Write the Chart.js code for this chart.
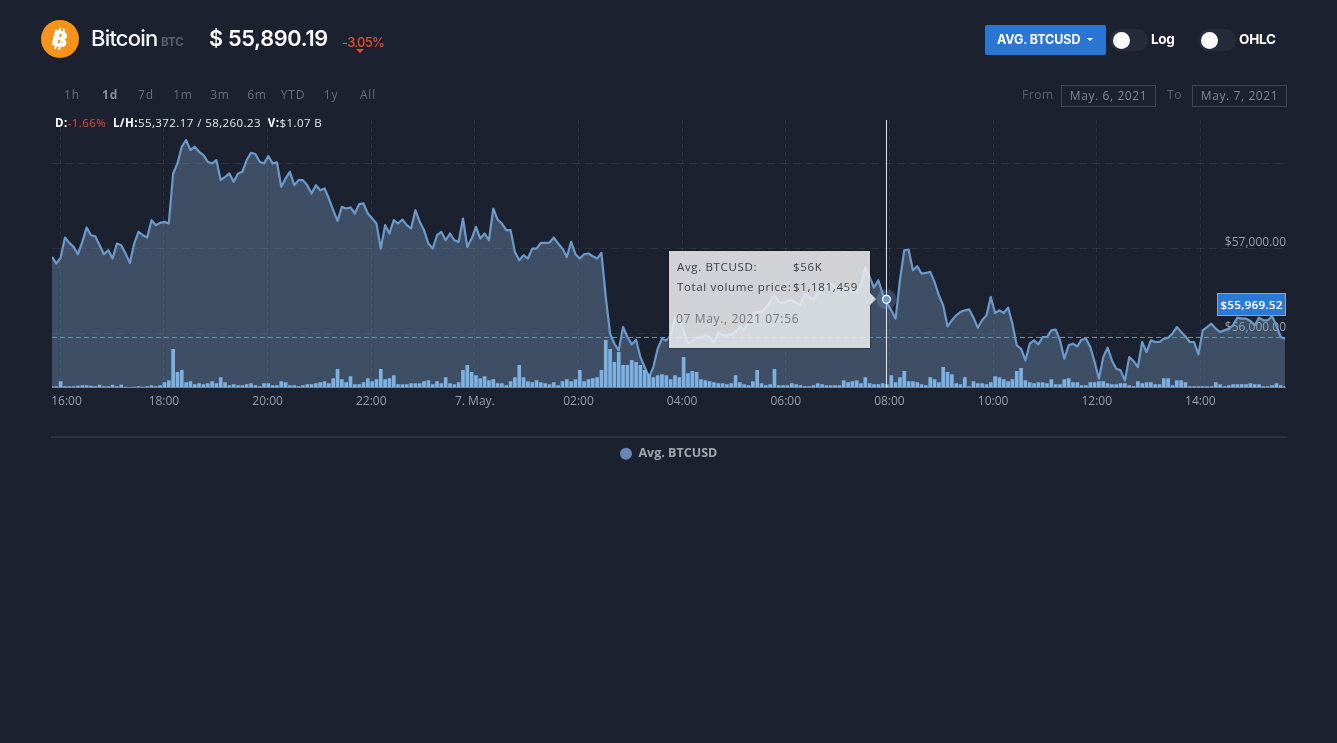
<!DOCTYPE html>
<html><head><meta charset="utf-8">
<script src="https://cdn.jsdelivr.net/npm/chart.js@4"></script>
<style>
html,body{margin:0;padding:0;background:#1c2130;width:1337px;height:743px;overflow:hidden;font-family:"Open Sans",sans-serif}
.a{position:absolute;white-space:nowrap}
canvas{position:absolute;left:0;top:0}
.p{top:86px;font-size:12px;color:#6b6f78;letter-spacing:.8px;transform:translateX(-50%)}
.box{top:85px;height:20px;width:93px;border:1px solid #41464f;color:#85888e;font-size:12px;letter-spacing:.6px;text-align:center;line-height:19px}
.tr{top:29px;height:22px;width:38px;border-radius:11px;background:#262b3a}
.kn{top:31.5px;width:17px;height:17px;border-radius:50%;background:#fff}
.t{font-size:11.5px;letter-spacing:.65px;color:#3a3d42}
</style></head><body>
<canvas id="c" width="1337" height="470"></canvas>

<svg class="a" style="left:41px;top:20px" width="38" height="38" viewBox="0 0 38 38">
<circle cx="19" cy="19" r="19" fill="#f7931a"/>
<g transform="rotate(14 19 19)" fill="#fff"><rect x="15.6" y="8" width="2" height="22"/><rect x="19.6" y="8" width="2" height="22"/>
<text x="19" y="26.5" text-anchor="middle" font-family="Liberation Sans" font-weight="700" font-size="22" fill="#fff" stroke="#fff" stroke-width=".5">B</text></g></svg>
<div class="a" style="left:91px;top:25px;font:500 22px Inter;letter-spacing:-.8px;color:#f2f4f7">Bitcoin</div>
<div class="a" style="left:161px;top:35px;font:700 11.5px Inter;color:#59606e">BTC</div>
<div class="a" style="left:209px;top:25px;font:600 21.7px Inter;letter-spacing:-.3px;color:#fff">$ 55,890.19</div>
<div class="a" style="left:342px;top:34px;font:500 13px Inter;letter-spacing:-.75px;color:#e5502d">-3.05%</div>
<div class="a" style="left:356px;top:49px;width:0;height:0;border-left:4px solid transparent;border-right:4px solid transparent;border-top:4px solid #e5502d"></div>

<div class="a" style="left:985px;top:25px;width:121px;height:30px;background:#2b76d2;border-radius:2px"></div>
<div class="a" style="left:997px;top:32px;font:700 12.5px Inter;letter-spacing:-.1px;color:#fff">AVG. BTCUSD</div>
<div class="a" style="left:1087px;top:38px;width:0;height:0;border-left:3.5px solid transparent;border-right:3.5px solid transparent;border-top:3.5px solid #fff"></div>
<div class="a tr" style="left:1110px"></div><div class="a kn" style="left:1113px"></div>
<div class="a" style="left:1151px;top:31px;font:700 13.5px Inter;letter-spacing:-.3px;color:#fff">Log</div>
<div class="a tr" style="left:1198px"></div><div class="a kn" style="left:1201px"></div>
<div class="a" style="left:1239px;top:31px;font:700 13.5px Inter;letter-spacing:-.25px;color:#fff">OHLC</div>

<div class="a p" style="left:72px">1h</div>
<div class="a p" style="left:110px;font-weight:700;color:#8b8e95">1d</div>
<div class="a p" style="left:146px">7d</div>
<div class="a p" style="left:183px">1m</div>
<div class="a p" style="left:220px">3m</div>
<div class="a p" style="left:257px">6m</div>
<div class="a p" style="left:293px">YTD</div>
<div class="a p" style="left:331px">1y</div>
<div class="a p" style="left:368px">All</div>
<div class="a" style="left:1022px;top:86px;font-size:12px;letter-spacing:.6px;color:#5f636b">From</div>
<div class="a box" style="left:1061px">May. 6, 2021</div>
<div class="a" style="left:1167px;top:86px;font-size:12px;letter-spacing:.6px;color:#5f636b">To</div>
<div class="a box" style="left:1192px">May. 7, 2021</div>

<div class="a" style="left:55px;top:115px;font-size:11.5px;letter-spacing:.42px;color:#e8e8e8;line-height:15px"><b style="color:#fff">D:</b><span style="color:#e0503f">-1.66%</span>&nbsp; <b style="color:#fff">L/H:</b>55,372.17 / 58,260.23&nbsp; <b style="color:#fff">V:</b>$1.07 B</div>

<div class="a" style="left:1217px;top:293px;width:67px;height:21px;background:#2b78d6;border:1px solid #9aa3ad;color:#fff;font-size:11.5px;font-weight:600;letter-spacing:.35px;text-align:center;line-height:21px">$55,969.52</div>

<div class="a" style="left:669px;top:251px;width:201px;height:97px;background:rgba(238,240,242,.86);box-shadow:0 0 2px rgba(0,0,0,.6)"></div>
<div class="a" style="left:870px;top:293px;width:0;height:0;border-top:6px solid transparent;border-bottom:6px solid transparent;border-left:6px solid rgba(238,240,242,.86)"></div>
<div class="a t" style="left:677px;top:259px">Avg. BTCUSD:</div>
<div class="a t" style="left:793px;top:259px">$56K</div>
<div class="a t" style="left:677px;top:279px">Total volume price:</div>
<div class="a t" style="left:793px;top:279px">$1,181,459</div>
<div class="a t" style="left:676px;top:310px;font-size:12px;color:#74777c">07 May., 2021 07:56</div>

<div class="a" style="left:51px;top:436px;width:1235px;height:2px;background:#2c3240"></div>

<script>
// minutes after 16:00 on 6 May of the first sample and the sampling step
const firstMinute = -9.6;
const stepMinutes = 5.009;
const tickMinutes = [0,120,240,360,480,600,720,840,960,1080,1200,1320];
const tickLabels = ["16:00","18:00","20:00","22:00","7. May.","02:00","04:00","06:00","08:00","10:00","12:00","14:00"];
const priceTicks = [56000,57000,58000];
const priceTickLabels = ["$56,000.00","$57,000.00",""];
const lastPriceLine = 55953;
const hoverMinute = 956;
const hoverPrice = 56400;

const prices = [
56898,56820,56891,57126,57063,57016,56930,57075,57243,57153,57141,57036,56930,56977,56879,57055,57036,56938,56828,57055,
57192,57153,57126,57330,57271,57298,57310,57290,57878,57996,58192,58270,58153,58192,58133,58094,58016,57996,58035,57800,
57839,57878,57780,57878,57898,58035,58121,58106,58016,57996,58082,57996,58008,57722,57820,57898,57741,57800,57800,57741,
57643,57741,57682,57702,57584,57447,57322,57486,57467,57479,57408,57518,
57526,57408,57349,57290,56996,57271,57173,57330,57290,57337,57271,57232,57447,57310,57212,57055,56996,57153,57192,57094,
57173,57094,57075,57349,57016,57114,57251,57114,57173,57094,57467,57337,57290,57212,57212,56957,56859,56918,56879,56996,
56996,57063,57063,57067,57126,57055,56996,56898,57075,56930,56879,56930,56938,56906,56879,56945,56428,55997,55879,55801,
56075,55958,55871,55926,55722,55605,55487,55605,55820,55938,55918,
55977,56185,56154,56036,55879,55911,55950,55950,55977,55958,55887,56016,55977,55977,55989,56016,56083,56036,56134,56232,
56252,56252,56303,56369,56448,56369,56357,56381,56389,56357,56330,56459,56428,56397,56475,56526,56565,56585,56546,56514,
56514,56546,56487,56487,56565,56773,56663,56538,56624,56467,56357,56271,56173,56624,56977,56985,56742,56789,56702,56710,
56722,56604,56448,56330,56083,56154,56212,56252,56271,
56283,56185,56067,56154,56212,56428,56240,56271,56240,56303,56114,55860,55820,55683,55879,55918,55871,55958,55958,56036,
56044,55918,55703,55860,55879,55848,55926,55938,55840,55664,55468,55722,55832,55683,55585,55566,55448,55722,55675,55605,
55899,55781,55918,55899,55899,55938,55950,55997,56075,56016,55965,55899,55899,55754,56036,56075,56114,56056,56016,56036,
56056,56095,56185,56173,56173,56146,56095,56185,56154,56154,56201,56095,55958,55938];

// total volume price, in millions of dollars
const volumes = [
.3,.3,1.8,.3,.3,.3,.45,.6,.6,.45,.3,.75,.3,.3,.75,.3,.75,.15,0,.15,.3,.15,.3,.6,.3,.6,1.5,2.1,11.4,4.5,
5.1,1.5,1.8,.9,1.2,.9,1.2,1.8,1.2,3,1.5,.6,.9,.6,.6,.9,1.2,.6,.3,1.2,1.2,.6,.6,1.8,1.5,.6,.6,.3,.6,.9,
.9,1.2,1.5,1.8,1.2,2.7,5.4,2.4,1.5,3.3,.9,.9,
1.5,2.7,1.8,2.4,5.4,2.4,2.7,3.6,.9,.9,.9,1.2,1.2,1.2,1.8,2.1,.9,1.8,1.2,3,1.2,.9,1.5,5.1,6.6,4.5,3.6,2.7,3.3,2.1,
2.4,1.2,1.2,.6,1.8,3,6.6,3,1.8,1.5,2.1,1.5,1.2,.9,1.5,.6,1.8,2.4,1.8,2.4,5.1,1.8,2.4,2.7,3,5.1,14.1,11.4,7.5,10.5,
6.6,6.6,8.1,7.5,6.6,5.1,3.9,3,3.6,3.9,3.6,
2.4,3.6,3,9,4.2,4.8,4.5,2.4,2.1,1.8,1.5,1.2,1.2,.9,1.2,3.6,1.5,.9,.6,1.8,5.1,1.2,.6,.9,5.4,.6,.6,.6,1.2,.9,
.6,.3,.3,.6,1.2,.9,.6,.6,.6,.6,2.1,1.5,1.8,2.1,1.2,3,1.2,.9,.9,1.181459,.9,3.6,1.5,3,4.8,1.8,1.8,1.5,.9,.6,
3,2.4,1.5,6,4.5,3.9,1.2,.9,3,
.3,1.8,1.2,1.2,.9,1.5,3.3,3,2.4,1.8,2.4,4.8,5.7,2.1,1.5,1.2,1.5,1.5,1.2,2.4,.9,.9,2.4,2.7,1.5,1.5,.6,.6,1.5,1.5,
1.8,1.8,1.2,.9,.9,1.2,1.2,.6,.3,1.8,1.2,1.5,1.5,.9,.9,2.7,2.7,.6,2.1,2.1,1.5,.3,.3,.3,.3,.3,.3,1.5,.9,.3,
.6,.9,.9,.9,.9,1.2,.9,.9,.3,.3,.6,1.2,.6,.3];

const times = prices.map((_, i) => firstMinute + i * stepMinutes);
const line = prices.map((v, i) => ({x: times[i], y: v}));
const bars = volumes.map((v, i) => ({x: times[i], y: v}));

const crosshair = {
  id: 'crosshair',
  afterDatasetsDraw(chart) {
    const {ctx, chartArea: a, scales: {x, y}} = chart;
    const hx = x.getPixelForValue(hoverMinute), hy = y.getPixelForValue(hoverPrice);
    const ly = y.getPixelForValue(lastPriceLine);
    ctx.save();
    ctx.strokeStyle = '#5f93d6'; ctx.lineWidth = 1; ctx.setLineDash([5, 3]);
    ctx.beginPath(); ctx.moveTo(a.left, ly); ctx.lineTo(a.right, ly); ctx.stroke();
    ctx.setLineDash([]);
    ctx.strokeStyle = '#e8eaee';
    ctx.beginPath(); ctx.moveTo(hx + .5, a.top); ctx.lineTo(hx + .5, a.bottom); ctx.stroke();
    ctx.fillStyle = 'rgba(124,170,225,.28)';
    ctx.beginPath(); ctx.arc(hx + .5, hy, 10, 0, Math.PI * 2); ctx.fill();
    ctx.fillStyle = '#6f9fd0'; ctx.strokeStyle = '#fff'; ctx.lineWidth = 1.2;
    ctx.beginPath(); ctx.arc(hx + .5, hy, 4, 0, Math.PI * 2); ctx.fill(); ctx.stroke();
    ctx.restore();
  }
};

const gridColor = 'rgba(255,255,255,.08)';
new Chart(document.getElementById('c'), {
  type: 'line',
  plugins: [crosshair],
  data: {datasets: [
    {type: 'line', label: 'Avg. BTCUSD', data: line, yAxisID: 'y', order: 2, borderColor: '#6c9aca', borderWidth: 2.2,
     backgroundColor: 'rgba(135,170,210,.33)', fill: 'start', pointRadius: 0, tension: 0, borderJoinStyle: 'round'},
    {type: 'bar', label: 'Total volume price', data: bars, yAxisID: 'vol', order: 1, backgroundColor: '#7db1e2', barThickness: 3, borderWidth: 0}
  ]},
  options: {
    responsive: false, animation: false, events: [],
    layout: {padding: {left: 52, right: 52, top: 120, bottom: 0}},
    scales: {
      x: {type: 'linear', offset: false, min: -9.6, max: 1418,
        afterBuildTicks(s) { s.ticks = tickMinutes.map(v => ({value: v})); },
        afterFit(s) { s.height = 51; },
        ticks: {color: '#9a9ea5', font: {family: 'Open Sans', size: 12}, padding: 7, maxRotation: 0, autoSkip: false,
          callback(v) { const i = tickMinutes.indexOf(v); return i === 0 ? '    ' + tickLabels[i] : tickLabels[i]; }},
        grid: {color: gridColor, drawTicks: false, offset: false},
        border: {color: '#6d7480', dash: [4, 4]}
      },
      y: {type: 'linear', position: 'right', min: 55365, max: 58506,
        afterBuildTicks(s) { s.ticks = priceTicks.map(v => ({value: v})); },
        afterFit(s) { s.width = 0; },
        ticks: {mirror: true, padding: 1, labelOffset: -6, color: '#9a9ea5', font: {family: 'Open Sans', size: 12},
          callback(v) { return priceTickLabels[priceTicks.indexOf(v)]; }},
        grid: {color: gridColor, drawTicks: false},
        border: {display: false, dash: [8, 5]}
      },
      vol: {type: 'linear', display: false, min: 0, max: 80}
    },
    plugins: {
      tooltip: {enabled: false},
      legend: {position: 'bottom', onClick: null,
        labels: {usePointStyle: true, boxHeight: 8.5, color: '#a3a7ae', font: {family: 'Open Sans', size: 12.5, weight: '700'}, padding: 9,
          generateLabels: chart => [{text: chart.data.datasets[0].label, fillStyle: '#6587b2', strokeStyle: '#6587b2', lineWidth: 0, pointStyle: 'circle', datasetIndex: 0, fontColor: '#a3a7ae'}]}}
    }
  }
});
</script>
</body></html>
